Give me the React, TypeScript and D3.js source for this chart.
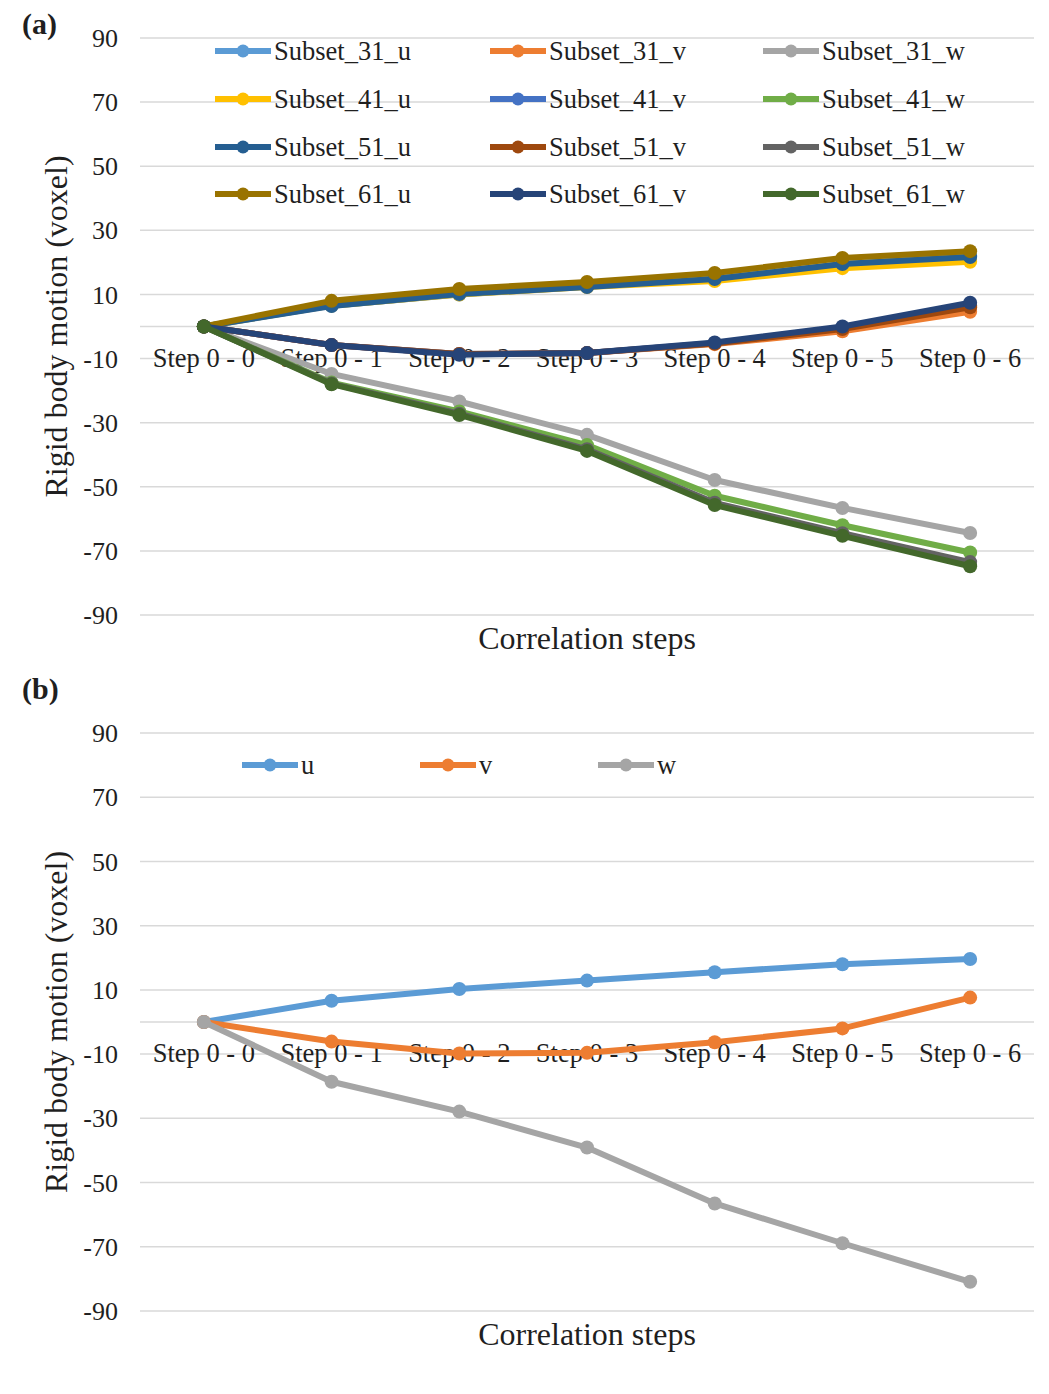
import React from "react";
import * as d3 from "d3";

const steps = ["Step 0 - 0", "Step 0 - 1", "Step 0 - 2", "Step 0 - 3", "Step 0 - 4", "Step 0 - 5", "Step 0 - 6"];
const yTicks = [90, 70, 50, 30, 10, -10, -30, -50, -70, -90];

// panel (a) – one array per subset / component
const subset31u = [0, 6.5, 10, 12.5, 15, 19.5, 22];
const subset31v = [0, -5.8, -8.6, -8.3, -5.5, -1.5, 4.6];
const subset31w = [0, -14.8, -23.4, -33.8, -47.9, -56.6, -64.4];
const subset41u = [0, 6.5, 10, 12.3, 14.2, 18.2, 20.2];
const subset41v = [0, -5.8, -8.6, -8.3, -5.2, -0.5, 6.5];
const subset41w = [0, -17.5, -26.5, -37, -52.8, -62, -70.5];
const subset51u = [0, 6.4, 10.1, 12.3, 14.8, 19.5, 21.7];
const subset51v = [0, -5.8, -8.6, -8.3, -5.3, -0.8, 6];
const subset51w = [0, -17.8, -27.2, -38.3, -55, -64.5, -73.5];
const subset61u = [0, 8, 11.7, 13.9, 16.7, 21.4, 23.5];
const subset61v = [0, -5.8, -8.8, -8.3, -5.0, 0, 7.4];
const subset61w = [0, -18, -27.6, -38.8, -55.7, -65.3, -74.8];

// panel (b)
const meanU = [0, 6.6, 10.3, 12.9, 15.5, 18.0, 19.6];
const meanV = [0, -6.1, -9.8, -9.6, -6.3, -2.0, 7.6];
const meanW = [0, -18.6, -27.9, -39.1, -56.5, -68.9, -80.9];

const seriesA = [
  { name: "Subset_31_u", color: "#5B9BD5", values: subset31u },
  { name: "Subset_31_v", color: "#ED7D31", values: subset31v },
  { name: "Subset_31_w", color: "#A5A5A5", values: subset31w },
  { name: "Subset_41_u", color: "#FFC000", values: subset41u },
  { name: "Subset_41_v", color: "#4472C4", values: subset41v },
  { name: "Subset_41_w", color: "#70AD47", values: subset41w },
  { name: "Subset_51_u", color: "#255E91", values: subset51u },
  { name: "Subset_51_v", color: "#9E480E", values: subset51v },
  { name: "Subset_51_w", color: "#636363", values: subset51w },
  { name: "Subset_61_u", color: "#997300", values: subset61u },
  { name: "Subset_61_v", color: "#264478", values: subset61v },
  { name: "Subset_61_w", color: "#43682B", values: subset61w },
];

const seriesB = [
  { name: "u", color: "#5B9BD5", values: meanU },
  { name: "v", color: "#ED7D31", values: meanV },
  { name: "w", color: "#A5A5A5", values: meanW },
];

const FONT = "'Liberation Serif', 'Times New Roman', serif";
const TXT = "#1f1f1f";
const GRID = "#D9D9D9";

const Panel = ({ label, labelY, series, top, bottom, legendCols, legendRows }) => {
  const x = d3.scalePoint().domain(steps).range([140, 1034]).padding(0.5);
  const y = d3.scaleLinear().domain([-90, 90]).range([bottom, top]);
  const line = d3
    .line()
    .x((d, i) => x(steps[i]))
    .y((d) => y(d));

  return (
    <g>
      <text x={22} y={labelY} fontFamily={FONT} fontSize={30} fontWeight="bold" fill={TXT}>
        {label}
      </text>
      {yTicks.map((t) => (
        <g key={t}>
          <line x1={140} x2={1034} y1={y(t)} y2={y(t)} stroke={GRID} strokeWidth={1.5} />
          <text x={118} y={y(t)} dy="0.35em" textAnchor="end" fontFamily={FONT} fontSize={26} fill={TXT}>
            {t}
          </text>
        </g>
      ))}
      <line x1={140} x2={1034} y1={y(0)} y2={y(0)} stroke={GRID} strokeWidth={1.5} />
      {steps.map((s) => (
        <text key={s} x={x(s)} y={y(0) + 40} textAnchor="middle" fontFamily={FONT} fontSize={26.5} fill={TXT}>
          {s}
        </text>
      ))}
      {series.map((s) => (
        <g key={s.name}>
          <path d={line(s.values)} fill="none" stroke={s.color} strokeWidth={6} strokeLinejoin="round" />
          {s.values.map((v, i) => (
            <circle key={i} cx={x(steps[i])} cy={y(v)} r={7} fill={s.color} />
          ))}
        </g>
      ))}
      {series.map((s, i) => {
        const lx = legendCols[i % legendCols.length];
        const ly = legendRows[Math.floor(i / legendCols.length)];
        return (
          <g key={s.name}>
            <line x1={lx} x2={lx + 56} y1={ly} y2={ly} stroke={s.color} strokeWidth={6} />
            <circle cx={lx + 28} cy={ly} r={6.5} fill={s.color} />
            <text x={lx + 59} y={ly} dy="0.35em" fontFamily={FONT} fontSize={26.5} fill={TXT}>
              {s.name}
            </text>
          </g>
        );
      })}
      <text
        transform={`translate(67,${(top + bottom) / 2}) rotate(-90)`}
        textAnchor="middle"
        fontFamily={FONT}
        fontSize={32}
        fill={TXT}
      >
        Rigid body motion (voxel)
      </text>
      <text x={587} y={bottom + 34} textAnchor="middle" fontFamily={FONT} fontSize={32} fill={TXT}>
        Correlation steps
      </text>
    </g>
  );
};

export default function App() {
  return (
    <svg width={1049} height={1394} style={{ position: "absolute", left: 0, top: 0, background: "#fff" }}>
      <rect width={1049} height={1394} fill="#fff" />
      <Panel
        label="(a)"
        labelY={34}
        series={seriesA}
        top={38}
        bottom={615}
        legendCols={[215, 490, 763]}
        legendRows={[51, 99, 147, 194]}
      />
      <Panel
        label="(b)"
        labelY={699}
        series={seriesB}
        top={733}
        bottom={1311}
        legendCols={[242, 420, 598]}
        legendRows={[765]}
      />
    </svg>
  );
}
